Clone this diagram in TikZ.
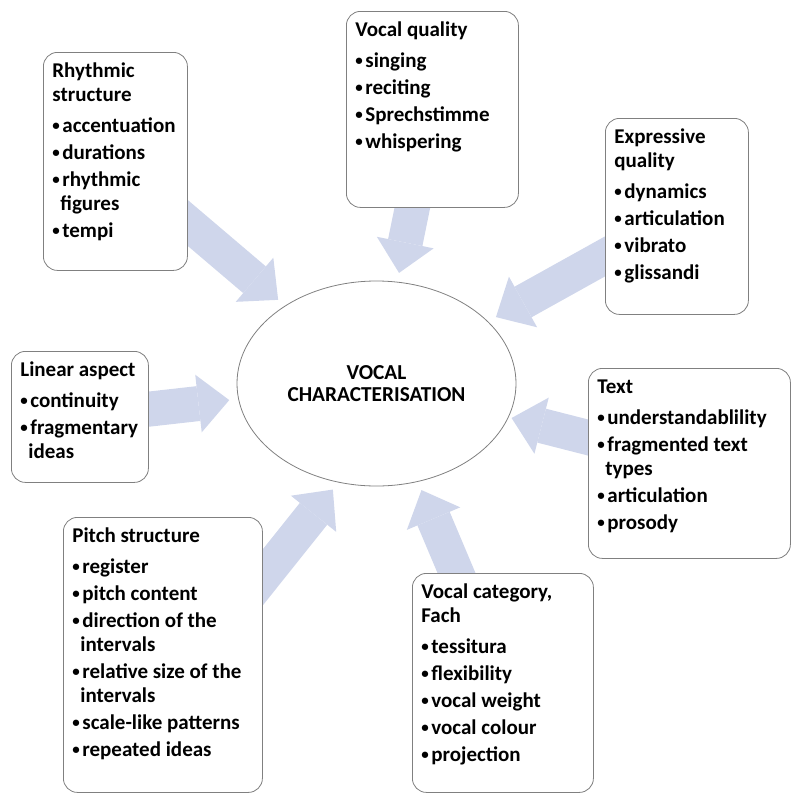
\documentclass[tikz,border=0pt]{standalone}
\usepackage{fontspec}
\setmainfont{Carlito}
\usetikzlibrary{shapes.geometric,arrows.meta,calc,backgrounds}
\definecolor{boxgray}{RGB}{128,128,128}
\definecolor{arrowblue}{RGB}{207,214,235}
\setlength{\parskip}{0pt}
% panel body: height, width, contents
\newcommand{\panelbody}[3]{\begin{minipage}[t][#1][t]{#2}\raggedright #3\end{minipage}}
\newcommand{\hd}[1]{\rule{0pt}{15pt}#1\par\vspace{4pt}}
\newcommand{\bulletmark}{\makebox[10pt][l]{\raisebox{1.6pt}{\fontsize{15}{15}\selectfont\textbullet}}}
\newcommand{\itm}[1]{\par\vspace{3pt}\hangindent=8pt\hangafter=1\noindent\bulletmark#1}
\begin{document}
\begin{tikzpicture}[x=1pt,y=-1pt,
	panel/.style={draw=boxgray,line width=0.8pt,rounded corners=14pt,fill=white,anchor=north west,
		inner xsep=9pt,inner ysep=10pt,font=\bfseries\fontsize{21}{24}\selectfont},
	bigarrow/.style={draw=arrowblue,line width=35pt,
		-{Triangle[width=58pt,length=31pt,line width=0pt 0 0]},shorten >=9pt}]
	\useasboundingbox (0,0) rectangle (791,793);
	% centre
	\node[ellipse,draw=boxgray,line width=0.8pt,minimum width=279pt,minimum height=205pt,inner sep=0pt,
		align=center,font=\bfseries\fontsize{21.3}{22}\selectfont] (voc) at (376.5,383.5) {VOCAL\\CHARACTERISATION};
	% boxes
	\node[panel] (rhythm) at (43,52) {\panelbody{198pt}{126pt}{\hd{Rhythmic\\structure}%
		\itm{accentuation}\itm{durations}\itm{rhythmic\newline figures}\itm{tempi}}};
	\node[panel] (quality) at (346,11) {\panelbody{176pt}{154pt}{\hd{Vocal quality}%
		\itm{singing}\itm{reciting}\itm{Sprechstimme}\itm{whispering}}};
	\node[panel] (express) at (605,118) {\panelbody{176pt}{125pt}{\hd{Expressive\\quality}%
		\itm{dynamics}\itm{articulation}\itm{vibrato}\itm{glissandi}}};
	\node[panel] (linear) at (11,351) {\panelbody{111pt}{119pt}{\hd{Linear aspect}%
		\itm{continuity}\itm{fragmentary\newline ideas}}};
	\node[panel] (text) at (588,368) {\panelbody{170pt}{184pt}{\hd{Text}%
		\itm{understandablility}\itm{fragmented text\newline types}\itm{articulation}\itm{prosody}}};
	\node[panel] (pitch) at (63,517) {\panelbody{255pt}{181pt}{\hd{Pitch structure}%
		\itm{register}\itm{pitch content}\itm{direction of the\newline intervals}%
		\itm{relative size of the\newline intervals}\itm{scale-like patterns}\itm{repeated ideas}}};
	\node[panel] (fach) at (412,573) {\panelbody{199pt}{163pt}{\hd{Vocal category,\\Fach}%
		\itm{tessitura}\itm{flexibility}\itm{vocal weight}\itm{vocal colour}\itm{projection}}};
	% arrows
	\begin{pgfonlayer}{background}
		\draw[bigarrow] (rhythm.center) -- (voc);
		\draw[bigarrow] (quality.center) -- (voc);
		\draw[bigarrow] (express.center) -- (voc);
		\draw[bigarrow] (linear.center) -- (voc);
		\draw[bigarrow,shorten >=3pt] (text.center) -- (voc);
		\draw[bigarrow] ($(pitch.center)+(38,0)$) -- (voc.249);
		\draw[bigarrow] (fach.center) -- (voc);
	\end{pgfonlayer}
\end{tikzpicture}
\end{document}
